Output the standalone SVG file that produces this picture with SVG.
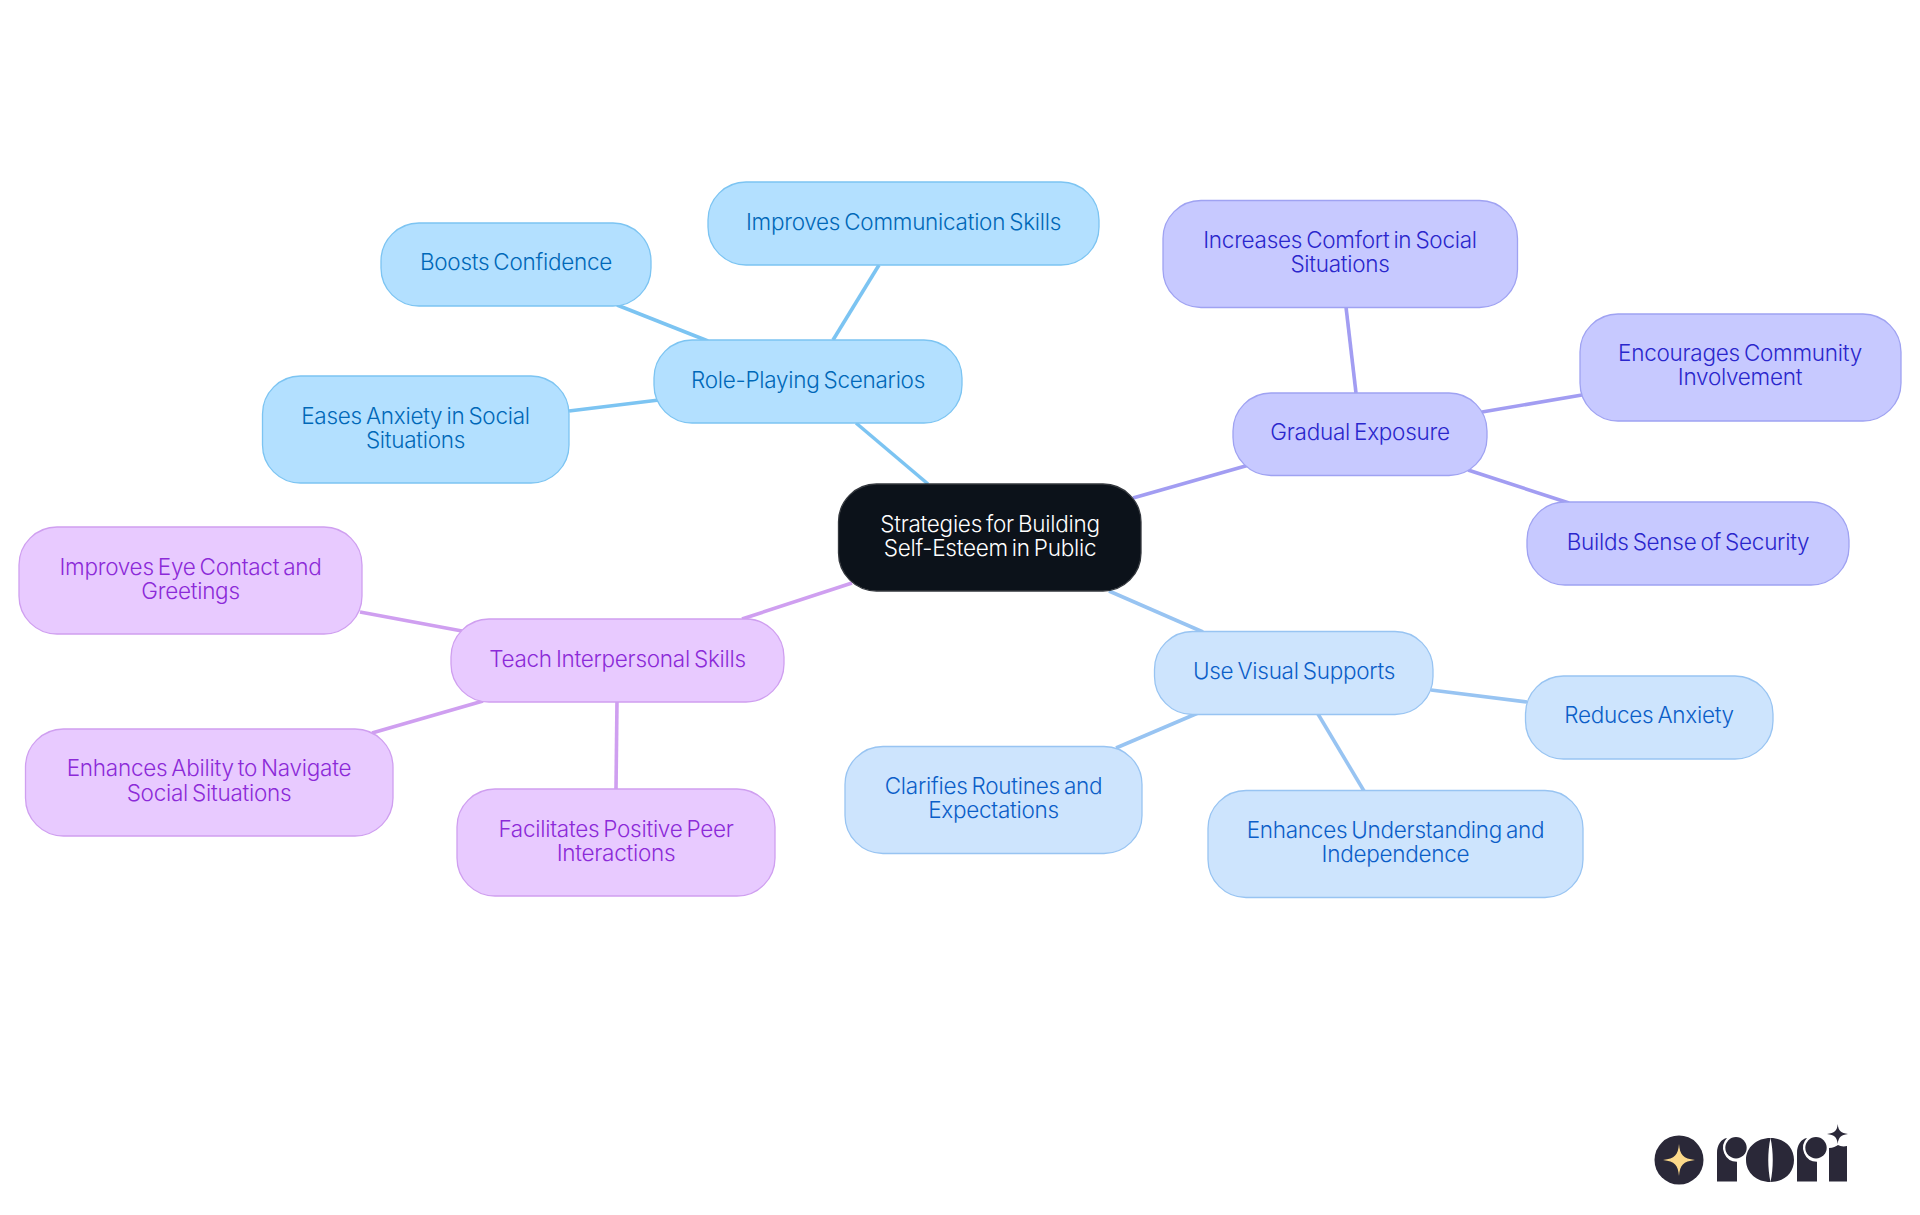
<svg xmlns="http://www.w3.org/2000/svg" width="1920" height="1215" viewBox="0 0 1920 1215">
<style>
text{font-family:"Inter","Noto Sans",sans-serif;font-size:22.5px;font-weight:350;text-anchor:middle;letter-spacing:-.27px;word-spacing:-2px}
.c line{fill:none;stroke-width:3.6}
.b rect{fill:#b3e0ff;stroke:#7cc4f2;stroke-width:1.3}.b text{fill:#0068b8}line.b{stroke:#7cc4f2}
.p rect{fill:#c7c9ff;stroke:#9fa2f2;stroke-width:1.3}.p text{fill:#2a26cc}line.p{stroke:#a29df2}
.l rect{fill:#cde4fd;stroke:#98c4f2;stroke-width:1.3}.l text{fill:#0b5ec8}line.l{stroke:#98c4f2}
.m rect{fill:#e8caff;stroke:#cf9ff0;stroke-width:1.3}.m text{fill:#8c2ad8}line.m{stroke:#cf9ff0}
.k rect{fill:#0c121a;stroke:#33373d;stroke-width:1.3}.k text{fill:#fff}
</style>
<rect width="1920" height="1215" fill="#fff"/>
<g id="connectors" class="c">
<line class="b" x1="856" y1="423" x2="928" y2="484"/>
<line class="b" x1="879" y1="265" x2="833" y2="340"/>
<line class="b" x1="617" y1="305" x2="708" y2="341"/>
<line class="b" x1="569" y1="411" x2="659" y2="400"/>
<line class="p" x1="1133" y1="498" x2="1249" y2="465"/>
<line class="p" x1="1346" y1="307" x2="1356" y2="393"/>
<line class="p" x1="1582" y1="395" x2="1482" y2="412"/>
<line class="p" x1="1569" y1="503" x2="1468" y2="470"/>
<line class="l" x1="1109" y1="591" x2="1203" y2="632"/>
<line class="l" x1="1431" y1="690" x2="1527" y2="702"/>
<line class="l" x1="1116" y1="748" x2="1198" y2="713"/>
<line class="l" x1="1318" y1="714" x2="1364" y2="791"/>
<line class="m" x1="852" y1="583" x2="742" y2="619"/>
<line class="m" x1="360" y1="612" x2="462" y2="631"/>
<line class="m" x1="372" y1="733" x2="483" y2="701"/>
<line class="m" x1="617" y1="701" x2="616" y2="789"/>
</g>
<g id="root" class="k"><rect x="838.500" y="484" width="302.500" height="107" rx="38"/><text x="990" y="532">Strategies for Building</text><text x="990" y="556">Self-Esteem in Public</text></g>
<g id="role-playing" class="b"><rect x="654" y="340" width="308" height="83" rx="38"/><text x="808" y="388">Role-Playing Scenarios</text></g>
<g id="communication" class="b"><rect x="708" y="182" width="391" height="83" rx="38"/><text x="903.500" y="230">Improves Communication Skills</text></g>
<g id="confidence" class="b"><rect x="381" y="223" width="270" height="83" rx="38"/><text x="516" y="270">Boosts Confidence</text></g>
<g id="eases" class="b"><rect x="262.500" y="376" width="306.500" height="107" rx="38"/><text x="415.500" y="424">Eases Anxiety in Social</text><text x="415.500" y="448">Situations</text></g>
<g id="gradual" class="p"><rect x="1233" y="393" width="254" height="82.500" rx="38"/><text x="1360" y="440">Gradual Exposure</text></g>
<g id="comfort" class="p"><rect x="1163" y="200.500" width="354.500" height="107" rx="38"/><text x="1340" y="248">Increases Comfort in Social</text><text x="1340" y="272">Situations</text></g>
<g id="community" class="p"><rect x="1580" y="314" width="321" height="107" rx="38"/><text x="1740" y="361">Encourages Community</text><text x="1740" y="385">Involvement</text></g>
<g id="security" class="p"><rect x="1527" y="502" width="322" height="83" rx="38"/><text x="1688" y="550">Builds Sense of Security</text></g>
<g id="visual" class="l"><rect x="1154.500" y="631.500" width="278.500" height="83" rx="38"/><text x="1294" y="679">Use Visual Supports</text></g>
<g id="reduces" class="l"><rect x="1525.500" y="676" width="247.500" height="83" rx="38"/><text x="1649" y="723">Reduces Anxiety</text></g>
<g id="clarifies" class="l"><rect x="845" y="746.500" width="297" height="107" rx="38"/><text x="993.500" y="794">Clarifies Routines and</text><text x="993.500" y="818">Expectations</text></g>
<g id="understanding" class="l"><rect x="1208" y="790.500" width="375" height="107" rx="38"/><text x="1395.500" y="838">Enhances Understanding and</text><text x="1395.500" y="862">Independence</text></g>
<g id="teach" class="m"><rect x="451" y="619" width="333" height="83" rx="38"/><text x="617.500" y="667">Teach Interpersonal Skills</text></g>
<g id="eye" class="m"><rect x="19" y="527" width="343" height="107" rx="38"/><text x="190.500" y="575">Improves Eye Contact and</text><text x="190.500" y="599">Greetings</text></g>
<g id="navigate" class="m"><rect x="25.500" y="729" width="367.500" height="107" rx="38"/><text x="209" y="776">Enhances Ability to Navigate</text><text x="209" y="801">Social Situations</text></g>
<g id="peer" class="m"><rect x="457" y="789" width="318" height="107" rx="38"/><text x="616" y="837">Facilitates Positive Peer</text><text x="616" y="861">Interactions</text></g>
<g id="logo" fill="#2a2838">
<circle cx="1679" cy="1160" r="24.500"/>
<path d="M1679 1144C1680 1155 1683 1158.500 1695 1160C1683 1161.500 1680 1165 1679 1176C1678 1165 1675 1161.500 1663 1160C1675 1158.500 1678 1155 1679 1144Z" fill="#fcd98a"/>
<path d="M1717 1181.500V1153C1717 1145 1721 1139 1727 1138A14 14 0 0 0 1737 1161.700V1181.500Z"/>
<circle cx="1736" cy="1147.700" r="10.700"/>
<path d="M1770.500 1138C1757 1138 1746 1147 1746 1160C1746 1173 1757 1182 1770.500 1182C1767.500 1168 1767.500 1152 1770.500 1138Z"/>
<path d="M1770.500 1138C1784 1138 1794 1147 1794 1160C1794 1173 1784 1182 1770.500 1182C1773.500 1168 1773.500 1152 1770.500 1138Z"/>
<path d="M1797 1181.500V1153C1797 1145 1801 1139 1807 1138A14 14 0 0 0 1817 1161.700V1181.500Z"/>
<circle cx="1816" cy="1147.700" r="10.700"/>
<path d="M1829 1181.500V1148C1833 1148 1836 1146 1838 1145C1840 1146 1843 1147 1847 1146V1181.500Z"/>
<path d="M1837.700 1124C1838.500 1131 1841 1133 1848 1134C1841 1135 1838.500 1137 1837.700 1144C1837 1137 1834.500 1135 1827 1134C1834.500 1133 1837 1131 1837.700 1124Z"/>
</g>
</svg>
